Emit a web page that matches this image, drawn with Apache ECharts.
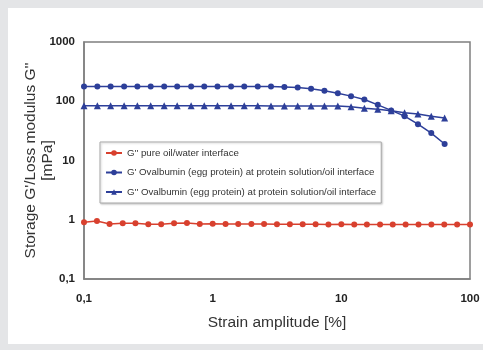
<!DOCTYPE html>
<html>
<head>
<meta charset="utf-8">
<script src="https://cdn.jsdelivr.net/npm/echarts@6/dist/echarts.min.js"></script>
<style>
  html, body { margin: 0; padding: 0; background: #e4e5e7; }
  #chart { width: 483px; height: 350px; }
</style>
</head>
<body>
<div id="chart"></div>
<script>
// strain amplitudes [%]
var xProtein = [0.1, 0.127, 0.161, 0.205, 0.26, 0.33, 0.42, 0.53, 0.68, 0.86,
	1.09, 1.39, 1.76, 2.24, 2.84, 3.61, 4.58, 5.82, 7.39, 9.39,
	11.9, 15.1, 19.2, 24.4, 31, 39.4, 50, 63.5];
var xPure = [0.1, 0.126, 0.158, 0.2, 0.251, 0.316, 0.398, 0.501, 0.631, 0.794,
	1, 1.26, 1.58, 2, 2.51, 3.16, 3.98, 5.01, 6.31, 7.94,
	10, 12.6, 15.8, 20, 25.1, 31.6, 39.8, 50.1, 63.1, 79.4, 100];

// moduli [mPa]
var gPure = [0.91, 0.95, 0.85, 0.87, 0.87, 0.84, 0.84, 0.87, 0.88, 0.85,
	0.86, 0.85, 0.85, 0.85, 0.85, 0.84, 0.84, 0.84, 0.84, 0.83,
	0.84, 0.83, 0.83, 0.83, 0.83, 0.83, 0.83, 0.83, 0.83, 0.83, 0.83];
var gStorage = [177, 177, 177, 177, 177, 177, 177, 177, 177, 177,
	177, 177, 177, 177, 177, 174, 170, 162, 150, 136,
	122, 107, 87, 70, 56, 41, 29, 19];
var gLoss = [84, 84, 84, 84, 84, 84, 84, 84, 84, 84,
	84, 84, 84, 84, 83, 83, 83, 83, 83, 83,
	81, 76, 73, 69, 64, 61, 56, 52];

var seriesNames = [
	"G'' pure oil/water interface",
	"G' Ovalbumin (egg protein) at protein solution/oil interface",
	"G'' Ovalbumin (egg protein) at protein solution/oil interface"
];

function pairs(xs, ys) {
	var out = [];
	for (var i = 0; i < xs.length; i++) out.push([xs[i], ys[i]]);
	return out;
}

function commaLabel(v) {
	return String(Number(v.toPrecision(3))).replace('.', ',');
}

var red = '#d8402e';
var blue = '#2d3f99';
var axisGray = '#7f7f7f';

var option = {
	backgroundColor: '#e4e5e7',
	animation: false,
	textStyle: { fontFamily: 'Liberation Sans, Arial, sans-serif' },
	graphic: [{
		type: 'rect',
		z: -10,
		silent: true,
		shape: { x: 8, y: 8, width: 475, height: 336 },
		style: { fill: '#ffffff' }
	}],
	grid: {
		left: 84, right: 13, top: 42, bottom: 71,
		outerBoundsMode: 'none',
		show: true,
		borderColor: axisGray,
		borderWidth: 1.5,
		backgroundColor: 'transparent'
	},
	legend: {
		orient: 'vertical',
		left: 100, top: 142,
		padding: [6, 5, 6, 5],
		itemWidth: 16, itemHeight: 7,
		itemGap: 9.5,
		backgroundColor: '#ffffff',
		borderColor: '#a9a9a9',
		borderWidth: 1,
		shadowColor: 'rgba(0,0,0,0.2)',
		shadowBlur: 2,
		shadowOffsetX: 1,
		shadowOffsetY: 1,
		textStyle: { fontSize: 9.7, lineHeight: 8, color: '#333' },
		data: seriesNames
	},
	xAxis: {
		type: 'log',
		logBase: 10,
		min: 0.1,
		max: 100,
		name: 'Strain amplitude [%]',
		nameLocation: 'middle',
		nameGap: 36,
		nameMoveOverlap: false,
		nameTextStyle: { fontSize: 15.5, color: '#333' },
		axisLine: { lineStyle: { color: axisGray, width: 1.5 } },
		axisTick: { show: false },
		splitLine: { show: false },
		axisLabel: {
			margin: 14, fontSize: 11.5, fontWeight: 'bold', color: '#222',
			formatter: commaLabel
		}
	},
	yAxis: {
		type: 'log',
		logBase: 10,
		min: 0.1,
		max: 1000,
		name: "Storage G'/Loss modulus G''\n[mPa]",
		nameLocation: 'middle',
		nameRotate: 90,
		nameGap: 28,
		nameMoveOverlap: false,
		nameTextStyle: { fontSize: 15.5, lineHeight: 17, color: '#333', align: 'center' },
		axisLine: { lineStyle: { color: axisGray, width: 1.5 } },
		axisTick: { show: false },
		splitLine: { show: false },
		axisLabel: {
			margin: 9, fontSize: 11.5, fontWeight: 'bold', color: '#222',
			formatter: commaLabel
		}
	},
	series: [
		{
			name: seriesNames[0],
			type: 'line',
			data: pairs(xPure, gPure),
			symbol: 'circle', symbolSize: 6,
			color: red,
			lineStyle: { color: red, width: 1.5 },
			itemStyle: { color: red }
		},
		{
			name: seriesNames[1],
			type: 'line',
			data: pairs(xProtein, gStorage),
			symbol: 'circle', symbolSize: 6,
			color: blue,
			lineStyle: { color: blue, width: 1.5 },
			itemStyle: { color: blue }
		},
		{
			name: seriesNames[2],
			type: 'line',
			data: pairs(xProtein, gLoss),
			symbol: 'triangle', symbolSize: 7,
			color: blue,
			lineStyle: { color: blue, width: 1.5 },
			itemStyle: { color: blue }
		}
	]
};

var myChart = echarts.init(document.getElementById('chart'));
myChart.setOption(option);
</script>
</body>
</html>
